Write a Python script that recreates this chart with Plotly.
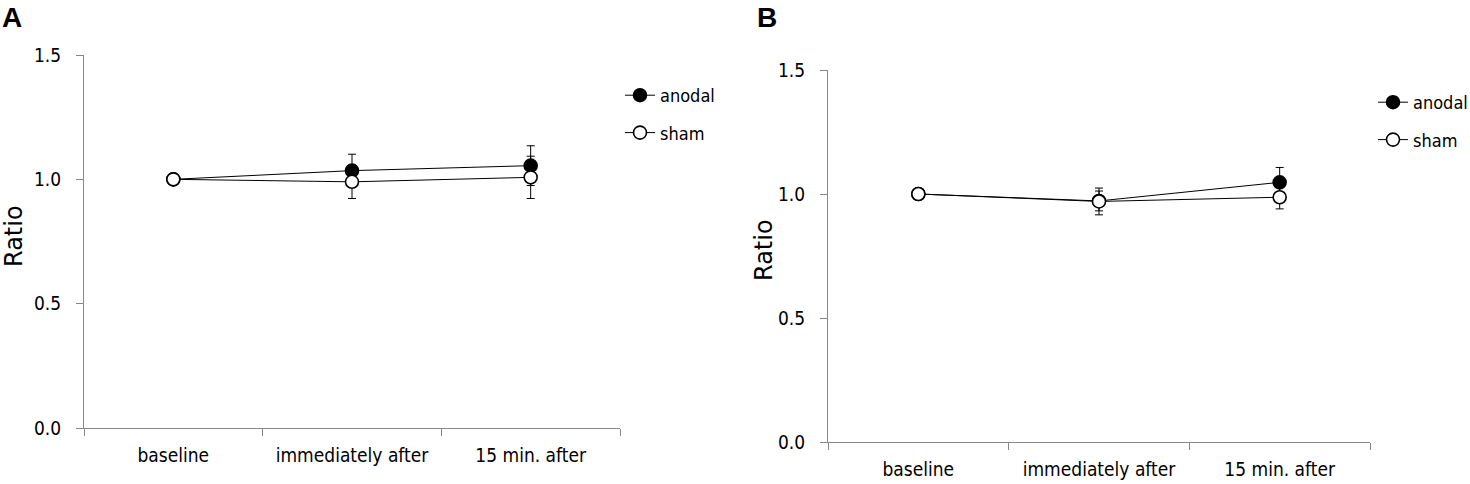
import plotly.graph_objects as go

categories = ["baseline", "immediately after", "15 min. after"]

a_anodal = [1.0, 1.035, 1.055]
a_anodal_err = [0.0, 0.066, 0.08]
a_sham = [1.0, 0.990, 1.008]
a_sham_err = [0.0, 0.067, 0.085]

b_anodal = [1.0, 0.972, 1.047]
b_anodal_err = [0.0, 0.04, 0.06]
b_sham = [1.0, 0.970, 0.987]
b_sham_err = [0.0, 0.054, 0.047]

y_ticks = [0.0, 0.5, 1.0, 1.5]

W, H = 1470, 484


def px(x):
    return x / W


def py(y):
    return 1 - y / H


NARROW = "Liberation Sans Narrow, DejaVu Sans Condensed, sans-serif"
TICKFONT = dict(family=NARROW, size=19, color="#000")

fig = go.Figure()


def add_series(xa, ya, y, err, name, filled, legend):
    fig.add_trace(go.Scatter(
        x=categories, y=y, name=name, mode="lines+markers",
        xaxis=xa, yaxis=ya, legend=legend, legendgroup=name + legend,
        line=dict(color="#000", width=1),
        marker=dict(size=13, symbol="circle",
                    color="#000" if filled else "#fff",
                    line=dict(color="#000", width=1.6)),
        error_y=dict(type="data", array=err, visible=True, color="#000",
                     thickness=1, width=4),
    ))


add_series("x", "y", a_anodal, a_anodal_err, "anodal", True, "legend")
add_series("x", "y", a_sham, a_sham_err, "sham", False, "legend")
add_series("x2", "y2", b_anodal, b_anodal_err, "anodal", True, "legend2")
add_series("x2", "y2", b_sham, b_sham_err, "sham", False, "legend2")

xcommon = dict(type="category", tickson="boundaries", ticks="outside", ticklen=7,
               tickcolor="#888", showline=True, linecolor="#888", linewidth=1,
               showgrid=False, zeroline=False, tickfont=TICKFONT, range=[-0.5, 2.5],
               ticklabelstandoff=10, automargin=False, fixedrange=True)
ycommon = dict(range=[0, 1.5], tickvals=y_ticks, ticktext=[f"{v:.1f}" for v in y_ticks],
               ticks="outside", ticklen=7, tickcolor="#888", showline=True,
               linecolor="#888", linewidth=1, showgrid=False, zeroline=False,
               tickfont=TICKFONT, ticklabelstandoff=11, automargin=False, fixedrange=True)

legcommon = dict(font=dict(family=NARROW, size=18, color="#000"),
                 bgcolor="rgba(0,0,0,0)", tracegroupgap=11, itemwidth=30,
                 xanchor="left", yanchor="top")

fig.update_layout(
    width=W, height=H,
    template="none",
    margin=dict(l=0, r=0, t=0, b=0, autoexpand=False),
    paper_bgcolor="#fff", plot_bgcolor="#fff",
    xaxis=dict(domain=[px(84), px(620)], anchor="y", **xcommon),
    yaxis=dict(domain=[py(428), py(55)], anchor="x", **ycommon),
    xaxis2=dict(domain=[px(828), px(1370)], anchor="y2", **xcommon),
    yaxis2=dict(domain=[py(442), py(70)], anchor="x2", **ycommon),
    legend=dict(x=px(620), y=py(77), **legcommon),
    legend2=dict(x=px(1373), y=py(84), **legcommon),
    showlegend=True,
    annotations=[
        dict(text="<b>A</b>", x=px(12), y=py(17), xref="paper", yref="paper",
             xanchor="center", yanchor="middle", showarrow=False,
             font=dict(family="Liberation Sans, Arial, sans-serif", size=28, color="#000")),
        dict(text="<b>B</b>", x=px(767), y=py(17), xref="paper", yref="paper",
             xanchor="center", yanchor="middle", showarrow=False,
             font=dict(family="Liberation Sans, Arial, sans-serif", size=28, color="#000")),
        dict(text="Ratio", x=px(14), y=py(236), xref="paper", yref="paper",
             xanchor="center", yanchor="middle", showarrow=False, textangle=-90,
             font=dict(family="DejaVu Sans, Verdana, sans-serif", size=24, color="#000")),
        dict(text="Ratio", x=px(764), y=py(250), xref="paper", yref="paper",
             xanchor="center", yanchor="middle", showarrow=False, textangle=-90,
             font=dict(family="DejaVu Sans, Verdana, sans-serif", size=24, color="#000")),
    ],
)

fig.write_html("out.html", config={"displayModeBar": False},
               post_script="document.body.style.margin='0';document.body.style.overflow='hidden';")
